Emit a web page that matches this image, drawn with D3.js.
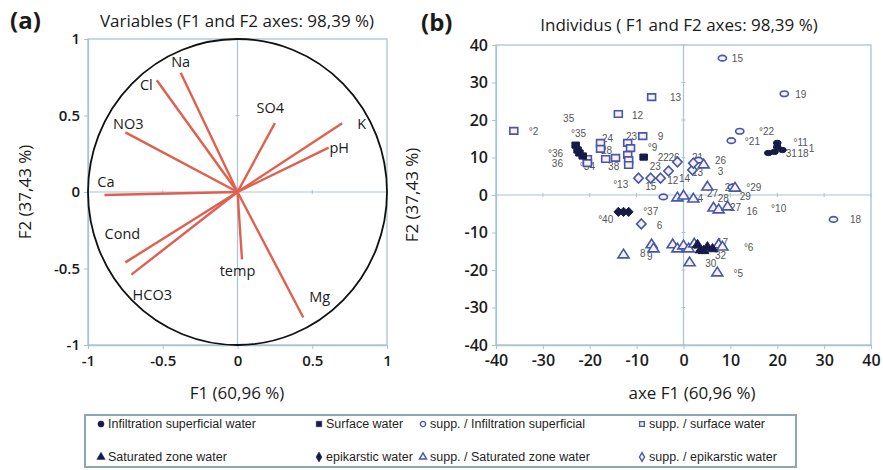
<!DOCTYPE html>
<html>
<head>
<meta charset="utf-8">
<script src="https://cdn.jsdelivr.net/npm/d3@7"></script>
<style>
  body { margin: 0; background: #fff; }
  text { font-family: "Open Sans", sans-serif; }
</style>
</head>
<body>
<svg width="883" height="470"></svg>
<script>
// ---- panel (a): variables circle ----
const varNames = ['Na', 'Cl', 'NO3', 'SO4', 'K', 'pH', 'Ca', 'Cond', 'HCO3', 'temp', 'Mg'];
const varF1 = [-0.38, -0.54, -0.75, 0.25, 0.70, 0.61, -0.89, -0.75, -0.71, 0.03, 0.44];
const varF2 = [0.78, 0.73, 0.39, 0.45, 0.45, 0.29, -0.02, -0.46, -0.54, -0.44, -0.82];
// where the label sits, in F1/F2 units
const varLabF1 = [-0.38, -0.61, -0.73, 0.22, 0.83, 0.68, -0.88, -0.77, -0.57, 0.0, 0.55];
const varLabF2 = [0.85, 0.70, 0.45, 0.55, 0.45, 0.29, 0.07, -0.27, -0.67, -0.51, -0.68];
const ticksA = [-1, -0.5, 0, 0.5, 1];

// ---- panel (b): individuals ----
const infil = [[20, 13.9], [18.1, 11.2], [19.4, 11.5], [21.1, 12], [20, 12.8]];
const surface = [[-23, 13.3], [-22.6, 12], [-22.2, 11.2], [-21.5, 10.4], [-8.5, 10.1]];
const supInfil = [[8.3, 36.5], [21.5, 27], [12, 17], [10.2, 14.5], [32, -6.5], [10.4, 2.1], [-4.3, -0.5], [3.2, 9.3]];
const supSurface = [[-36.2, 17.1], [-13.9, 21.6], [-6.8, 26.1], [-8.7, 15.7], [-11.9, 13.9], [-11.3, 12.5],
  [-11.9, 10.7], [-11.7, 9.3], [-11.7, 8], [-17.7, 13.9], [-17.7, 12.3], [-16.6, 9.6], [-20.5, 9.6],
  [-20.5, 8.5], [-14.5, 9.9]];
const saturated = [[3, -13.3], [3.6, -14.7], [5.1, -13.9], [6.2, -14.4], [4.3, -14.9]];
const epikarst = [[-13.9, -4.5], [-12.8, -4.5], [-11.7, -4.5]];
const supSaturated = [[-1.3, -0.8], [0, -0.3], [2.1, -1.1], [5.1, 2.1], [6.4, -3.5], [7.5, -4], [9.4, -3.2],
  [-12.8, -16], [-6.8, -13.3], [-6.4, -14.4], [-2.3, -13.3], [-1.3, -14.4], [0, -13.6], [1.1, -14.4],
  [2.3, -13.1], [7.5, -13.3], [8.3, -13.9], [1.3, -18.1], [7.2, -20.8], [4.3, 8], [11, 1.8]];
const supEpikarst = [[-9.6, 4.5], [-7, 4.5], [-4.9, 4.5], [-3.2, 6.4], [-1.3, 8.8], [1.9, 6.7], [2.1, 8.5], [-9, -7.7]];

const pointLabels = [
  [11.5, 36.3, '15'], [25, 26.7, '19'], [-1.7, 26.1, '13'], [-9.8, 21.3, '12'], [-24.5, 20.3, '35'],
  [-32, 17, '°2'], [-22.4, 16.3, '°35'], [-16.2, 15.2, '24'], [-11.1, 15.5, '23'], [-4.9, 15.7, '9'],
  [17.7, 17, '°22'], [14.7, 14.4, '°21'], [25, 13.9, '°11'], [23, 11.2, '31'], [25.5, 11.2, '18'], [27.3, 12.3, '1'],
  [-27.3, 11.2, '°36'], [-26.9, 8.5, '36'], [-20.5, 7.5, '°34'], [-16.4, 12, '28'], [-14.9, 7.7, '38'],
  [-6.6, 12.8, '°9'], [-4.3, 10.1, '22'], [-2, 10.1, '26'], [-6, 7.7, '23'], [3, 9.9, '21'], [7.9, 9.3, '26'],
  [7.9, 6.4, '3'], [-13.4, 2.7, '°13'], [-7, 2.4, '15'], [-2.3, 4, '12'], [0.2, 4.5, '14'], [3, 5.9, '13'],
  [10, 2.1, '20'], [15, 2.1, '°29'], [13.2, -0.5, '29'], [8.5, -0.8, '28'], [3.6, -0.8, '4'], [6.2, 0.3, '27'],
  [11.1, -3.3, '27'], [14.6, -4.5, '16'], [20.3, -3.5, '°10'], [36.7, -6.4, '18'], [-16.6, -6.4, '°40'],
  [-7, -4.5, '°37'], [-5.1, -8, '6'], [-8.7, -15.5, '8'], [-7.2, -16.3, '9'], [8.3, -12.6, '17'],
  [7.9, -16.2, '32'], [2.5, -13.5, '3'], [5.8, -18.3, '30'], [13.9, -14.1, '°6'], [11.7, -20.8, '°5']
];
const ticksB = [-40, -30, -20, -10, 0, 10, 20, 30, 40];

const legendNames = ['Infiltration superficial water', 'Surface water', 'supp. / Infiltration superficial',
  'supp. / surface water', 'Saturated zone water', 'epikarstic water', 'supp. / Saturated zone water',
  'supp. / epikarstic water'];

const svg = d3.select('svg');
const gridCol = '#a9c3d6';
const dark = '#161b47';
const blue = '#4558a8';
const ink = '#1a1a1a';

// ================= panel (a) =================
const xA = d3.scaleLinear().domain([-1, 1]).range([88, 387]);
const yA = d3.scaleLinear().domain([-1, 1]).range([345, 39]);

function frame(x, y, ticks, fs) {
  const g = svg.append('g');
  g.append('rect')
    .attr('x', x.range()[0]).attr('y', y.range()[1])
    .attr('width', x.range()[1] - x.range()[0]).attr('height', y.range()[0] - y.range()[1])
    .attr('fill', 'none').attr('stroke', gridCol).attr('stroke-width', 1.3);
  g.append('line').attr('x1', x(0)).attr('x2', x(0)).attr('y1', y.range()[0]).attr('y2', y.range()[1])
    .attr('stroke', gridCol).attr('stroke-width', 1.2);
  g.append('line').attr('y1', y(0)).attr('y2', y(0)).attr('x1', x.range()[0]).attr('x2', x.range()[1])
    .attr('stroke', gridCol).attr('stroke-width', 1.2);
  // small tick marks on the zero lines
  g.selectAll('.tx').data(ticks).enter().append('line')
    .attr('x1', d => x(d)).attr('x2', d => x(d)).attr('y1', y(0) - 2).attr('y2', y(0) + 2)
    .attr('stroke', gridCol);
  g.selectAll('.ty').data(ticks).enter().append('line')
    .attr('y1', d => y(d)).attr('y2', d => y(d)).attr('x1', x(0) - 2).attr('x2', x(0) + 2)
    .attr('stroke', gridCol);

  const ax = g.append('g').attr('transform', `translate(0,${y.range()[0]})`)
    .call(d3.axisBottom(x).tickValues(ticks).tickFormat(d => String(d)).tickSize(4).tickSizeOuter(0));
  const ay = g.append('g').attr('transform', `translate(${x.range()[0]},0)`)
    .call(d3.axisLeft(y).tickValues(ticks).tickFormat(d => String(d)).tickSize(4).tickSizeOuter(0));
  [ax, ay].forEach(a => {
    a.select('.domain').attr('stroke', gridCol).attr('stroke-width', 1.3);
    a.selectAll('.tick line').attr('stroke', gridCol);
    a.selectAll('.tick text').style('font-family', '"Open Sans", sans-serif')
      .style('font-size', fs + 'px').style('font-weight', 600).attr('fill', ink);
  });
  ax.selectAll('.tick text').attr('dy', '0.9em');
  ay.selectAll('.tick text').attr('dx', '-1px');
}

frame(xA, yA, ticksA, 15);

svg.append('ellipse')
  .attr('cx', xA(0)).attr('cy', yA(0))
  .attr('rx', xA(1) - xA(0)).attr('ry', yA(0) - yA(1))
  .attr('fill', 'none').attr('stroke', '#111').attr('stroke-width', 1.8);

svg.append('g').selectAll('line').data(varNames).enter().append('line')
  .attr('x1', xA(0)).attr('y1', yA(0))
  .attr('x2', (d, i) => xA(varF1[i])).attr('y2', (d, i) => yA(varF2[i]))
  .attr('stroke', '#e0604f').attr('stroke-width', 2.4);

svg.append('g').selectAll('text').data(varNames).enter().append('text')
  .attr('x', (d, i) => xA(varLabF1[i])).attr('y', (d, i) => yA(varLabF2[i]))
  .attr('text-anchor', 'middle').attr('dominant-baseline', 'central')
  .style('font-size', '14.5px').attr('fill', ink)
  .text(d => d);

// titles and axis names
function label(x, y, txt, size, weight, anchor, rot) {
  return svg.append('text')
    .attr('transform', `translate(${x},${y})` + (rot ? ' rotate(-90)' : ''))
    .attr('text-anchor', anchor)
    .style('font-size', size + 'px').style('font-weight', weight)
    .attr('fill', ink).text(txt);
}
label(10, 29, '(a)', 24, 700, 'start');
label(237, 27, 'Variables (F1 and F2 axes: 98,39 %)', 17, 400, 'middle');
label(237, 399, 'F1 (60,96 %)', 17, 400, 'middle');
label(31, 192, 'F2 (37,43 %)', 17, 400, 'middle', true);

// ================= panel (b) =================
const xB = d3.scaleLinear().domain([-40, 40]).range([496, 871]);
const yB = d3.scaleLinear().domain([-40, 40]).range([345, 45]);

frame(xB, yB, ticksB, 16);

label(421, 31, '(b)', 24, 700, 'start');
label(679, 31, 'Individus ( F1 and F2 axes: 98,39 %)', 17, 400, 'middle');
label(692, 399, 'axe F1 (60,96 %)', 17, 400, 'middle');
label(418, 195, 'F2 (37,43 %)', 17, 400, 'middle', true);

// marker shapes
const shapes = {
  circle: { sym: d3.symbolCircle, size: 34, sx: 1.25, sy: 0.85 },
  square: { sym: d3.symbolSquare, size: 52, sx: 1.1, sy: 0.9 },
  triangle: { sym: d3.symbolTriangle, size: 44, sx: 1.1, sy: 1 },
  diamond: { sym: d3.symbolDiamond, size: 34, sx: 1.5, sy: 0.9 }
};
const series = [
  { data: supSurface, shape: 'square', open: true },
  { data: supInfil, shape: 'circle', open: true },
  { data: supEpikarst, shape: 'diamond', open: true },
  { data: supSaturated, shape: 'triangle', open: true },
  { data: surface, shape: 'square', open: false },
  { data: infil, shape: 'circle', open: false },
  { data: epikarst, shape: 'diamond', open: false },
  { data: saturated, shape: 'triangle', open: false }
];

// labels under the markers
svg.append('g').selectAll('text').data(pointLabels).enter().append('text')
  .attr('x', d => xB(d[0])).attr('y', d => yB(d[1]))
  .attr('text-anchor', 'middle').attr('dominant-baseline', 'central')
  .style('font-family', '"Liberation Sans", Arial, sans-serif').style('font-size', '10px')
  .attr('fill', '#555')
  .text(d => d[2]);

series.forEach(s => {
  const sh = shapes[s.shape];
  const path = d3.symbol().type(sh.sym).size(s.open ? sh.size : sh.size * 0.9)();
  svg.append('g').selectAll('path').data(s.data).enter().append('path')
    .attr('d', path)
    .attr('transform', d => `translate(${xB(d[0])},${yB(d[1])}) scale(${sh.sx},${sh.sy})`)
    .attr('fill', s.open ? '#fbeff4' : dark)
    .attr('stroke', s.open ? blue : dark)
    .attr('stroke-width', s.open ? 1.6 : 1)
    .attr('vector-effect', 'non-scaling-stroke');
});

// ================= legend =================
const legShapes = ['circle', 'square', 'circle', 'square', 'triangle', 'diamond', 'triangle', 'diamond'];
const legCols = [101, 319, 423, 642];
const legRows = [424, 457];
const lg = svg.append('g');
lg.append('rect').attr('x', 85).attr('y', 415).attr('width', 711).attr('height', 52)
  .attr('fill', '#fff').attr('stroke', '#8ea5b2').attr('stroke-width', 2);
legendNames.forEach((name, i) => {
  const cx = legCols[i % 4], cy = legRows[Math.floor(i / 4)];
  const open = (i % 4) >= 2;
  const sh = shapes[legShapes[i]];
  lg.append('path')
    .attr('d', d3.symbol().type(sh.sym).size(open ? 22 : 30)())
    .attr('transform', `translate(${cx},${cy})`)
    .attr('fill', open ? '#fbeff4' : dark)
    .attr('stroke', open ? blue : dark)
    .attr('stroke-width', open ? 1.4 : 0.5);
  lg.append('text').attr('x', cx + 7).attr('y', cy).attr('dominant-baseline', 'central')
    .style('font-family', '"Liberation Sans", Arial, sans-serif').style('font-size', '12.5px')
    .attr('fill', '#1e1e1e').text(name);
});
</script>
</body>
</html>
